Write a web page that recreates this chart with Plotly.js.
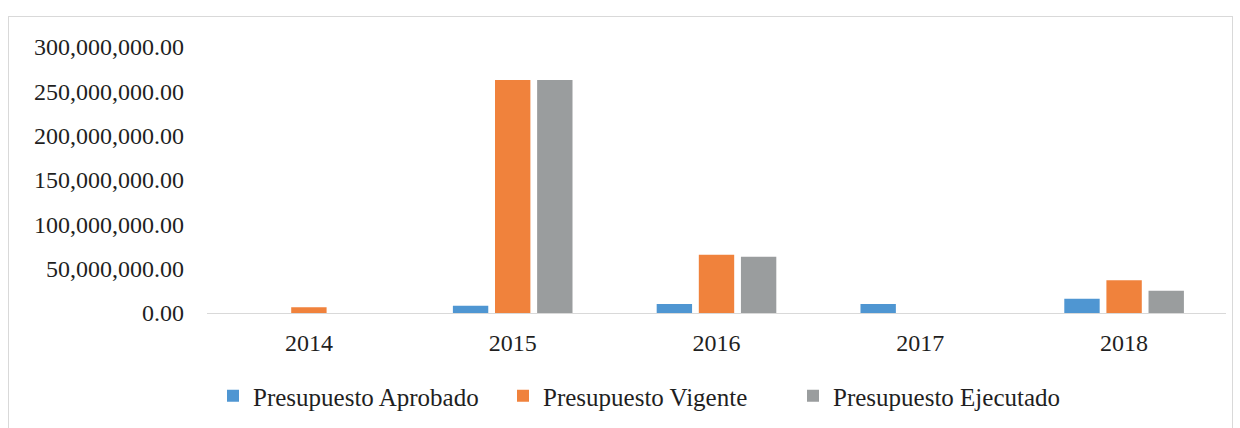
<!DOCTYPE html>
<html>
<head>
<meta charset="utf-8">
<script src="https://cdn.plot.ly/plotly-3.0.1.min.js"></script>
<style>
  html, body { margin: 0; padding: 0; background: #ffffff; }
  #frame { position: absolute; left: 8px; top: 16px; width: 1225px; height: 430px; border: 1px solid #d9d9d9; box-sizing: border-box; }
  #chart { position: absolute; left: 0; top: 0; width: 1240px; height: 428px; }
</style>
</head>
<body>
<div id="frame"></div>
<div id="chart"></div>
<script>
const years = ['2014', '2015', '2016', '2017', '2018'];
const seriesNames = ['Presupuesto Aprobado', 'Presupuesto Vigente', 'Presupuesto Ejecutado'];
const aprobado = [0, 8200000, 10100000, 10100000, 16100000];
const vigente = [6400000, 262800000, 65700000, 0, 36900000];
const ejecutado = [0, 262800000, 63500000, 0, 25200000];
const colors = ['#4f96d2', '#f0823c', '#9a9d9e'];

const values = [aprobado, vigente, ejecutado];
const traces = values.map((v, i) => ({
  type: 'bar',
  name: seriesNames[i],
  x: years,
  y: v,
  marker: { color: colors[i], line: { width: 0 } },
  hoverinfo: 'x+y+name'
}));

const fam = 'Liberation Serif, Times New Roman, serif';
const ink = '#1f1f1f';

const layout = {
  width: 1240,
  height: 428,
  margin: { l: 207, r: 14, t: 47, b: 115 },
  paper_bgcolor: 'rgba(0,0,0,0)',
  plot_bgcolor: 'rgba(0,0,0,0)',
  font: { family: fam, size: 24, color: ink },
  barmode: 'group',
  bargap: 0.38,
  bargroupgap: 0.16,
  showlegend: true,
  legend: {
    orientation: 'h',
    xref: 'container', yref: 'container',
    x: 213 / 1240, xanchor: 'left',
    y: 1 - 396 / 428, yanchor: 'middle',
    entrywidth: 245,
    entrywidthmode: 'pixels',
    font: { family: fam, size: 25, color: ink },
    itemclick: false
  },
  xaxis: {
    type: 'category',
    showline: true,
    linecolor: '#d9d9d9',
    linewidth: 1,
    showgrid: false,
    zeroline: false,
    ticks: '',
    ticklabelstandoff: 8,
    tickfont: { family: fam, size: 24, color: ink }
  },
  yaxis: {
    range: [0, 300000000],
    dtick: 50000000,
    tickformat: ',.2f',
    showgrid: false,
    zeroline: false,
    showline: false,
    ticks: '',
    ticklabelstandoff: 22,
    tickfont: { family: fam, size: 24, color: ink }
  }
};

Plotly.newPlot('chart', traces, layout, { displayModeBar: false, staticPlot: true });
</script>
</body>
</html>
